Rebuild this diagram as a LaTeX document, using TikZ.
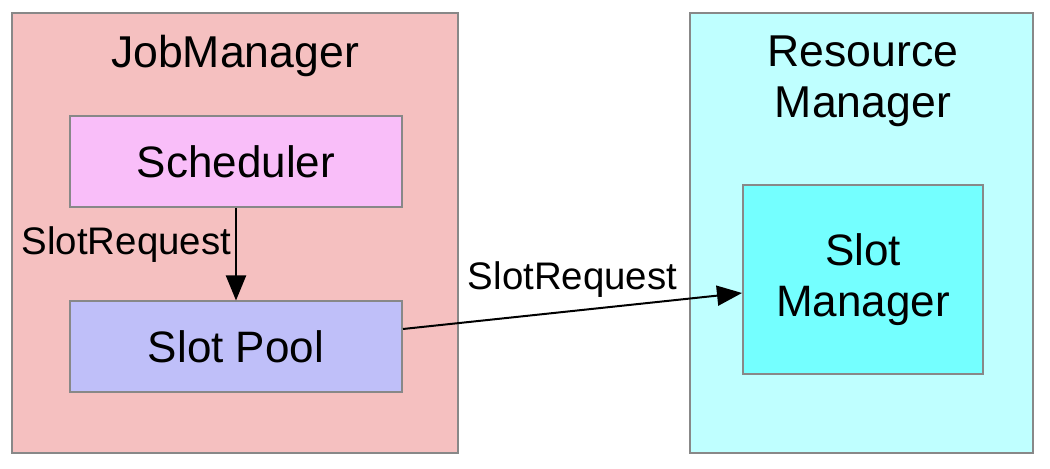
\documentclass[tikz,border=0pt]{standalone}
\usepackage{fontspec}
\setmainfont{Liberation Sans}
\usepackage{tikz}
\usetikzlibrary{arrows.meta,calc,positioning}
\definecolor{jobred}{HTML}{F5C0C0}
\definecolor{schedpink}{HTML}{F9BEF9}
\definecolor{poolblue}{HTML}{BFBFF9}
\definecolor{rmcyan}{HTML}{BFFFFF}
\definecolor{smcyan}{HTML}{74FFFF}
\definecolor{boxgray}{HTML}{888888}
\tikzset{
  outerbox/.style={draw=boxgray, line width=1pt, minimum width=223pt, minimum height=220pt, inner sep=0pt},
  innerbox/.style={draw=boxgray, line width=1pt, minimum width=166pt, minimum height=45.5pt, inner sep=0pt,
    font=\fontsize{22}{25.5}\selectfont},
  titletext/.style={font=\fontsize{22.3}{25.5}\selectfont, align=center, inner sep=0pt},
  reqlabel/.style={font=\fontsize{19.2}{22}\selectfont, inner sep=0pt},
  reqarrow/.style={-{Triangle[length=12.5pt,width=10pt]}, line width=1pt}
}
\begin{document}
\begin{tikzpicture}[x=0.5pt, y=-0.5pt]
        % Fix the canvas
        \useasboundingbox (0,0) rectangle (1050,469);
        % Job manager side
        \node[outerbox, fill=jobred] (jm) at (235,233) {};
        \node[titletext, anchor=base] (jmtitle) at (235,68) {JobManager};
        \node[innerbox, fill=schedpink] (sched) at (236,161.5) {Scheduler};
        \node[innerbox, fill=poolblue] (pool) at (236,347) {Slot Pool};
        % Resource manager side
        \node[outerbox, fill=rmcyan, minimum width=171.5pt] (rm) at (861.5,233) {};
        \node[titletext, anchor=base] (rmtitle) at (863,118) {Resource\\Manager};
        \node[innerbox, fill=smcyan, minimum width=120pt, minimum height=94.5pt, align=center] (sm) at (863,279.5) {Slot\\Manager};
        % Requests
        \draw[reqarrow] (sched.south) -- (pool.north)
          node[reqlabel, pos=0.5, anchor=base east, xshift=-2pt] (req1) {SlotRequest};
        \coordinate (poolout) at ([yshift=9pt]pool.east);
        \coordinate (smin) at ([yshift=-6.75pt]sm.west);
        \draw[reqarrow] (poolout) -- (smin)
          node[reqlabel, midway, anchor=base, yshift=10.5pt] (req2) {SlotRequest};
      \end{tikzpicture}
\end{document}
